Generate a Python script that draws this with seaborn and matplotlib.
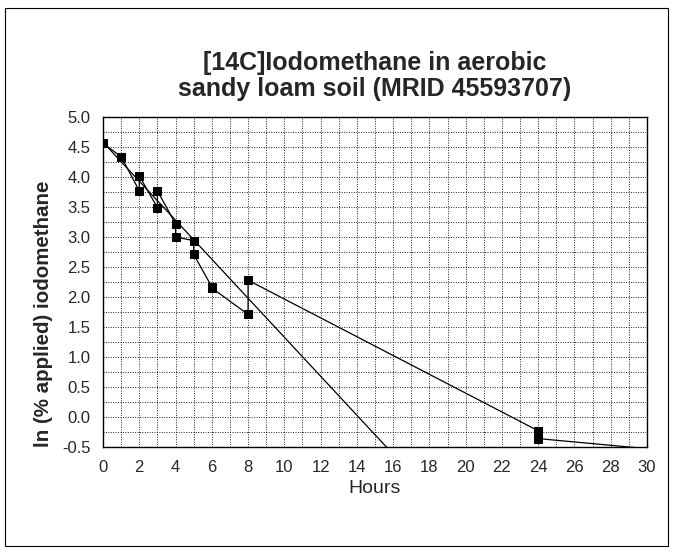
import pandas as pd
import matplotlib
matplotlib.use("Agg")
import matplotlib.pyplot as plt
from matplotlib.patches import Rectangle
from matplotlib.ticker import MultipleLocator
import seaborn as sns

# Observed data, in the order the sheet connects them
hours = [0, 1, 2, 2, 3, 3, 4, 4, 5, 5, 6, 6, 8, 8, 24, 24, 48]
ln_applied = [4.56, 4.34, 3.77, 4.02, 3.49, 3.77, 3.22, 3.00, 2.94, 2.71,
              2.17, 2.15, 1.71, 2.28, -0.23, -0.36, -1.03]

# First-order trend line (end points)
fit_hours = [0, 15.63]
fit_values = [4.58, -0.50]

x_ticks = list(range(0, 31, 2))
y_ticks = [-0.5, 0.0, 0.5, 1.0, 1.5, 2.0, 2.5, 3.0, 3.5, 4.0, 4.5, 5.0]


def main():
    sns.set_style("white")
    plt.rcParams['font.family'] = ['Liberation Sans', 'DejaVu Sans']

    obs = pd.DataFrame({'hours': hours, 'ln': ln_applied})
    fit = pd.DataFrame({'hours': fit_hours, 'ln': fit_values})

    fig = plt.figure(figsize=(6.75, 5.5), dpi=100)
    ax = fig.add_axes([103 / 675, 1 - 447 / 550, 544 / 675, 330 / 550])

    # dotted grid, every hour and every 0.25
    ax.xaxis.set_minor_locator(MultipleLocator(1))
    ax.yaxis.set_minor_locator(MultipleLocator(0.25))
    ax.grid(True, which='both', color='#222222', linestyle=(0, (1, 1.5)), linewidth=0.7)
    ax.set_axisbelow(True)

    sns.lineplot(data=fit, x='hours', y='ln', ax=ax, color='black',
                 linewidth=0.9, sort=False, estimator=None)
    sns.lineplot(data=obs, x='hours', y='ln', ax=ax, color='black',
                 linewidth=0.9, sort=False, estimator=None, marker='s',
                 markersize=6, markeredgecolor='black', markerfacecolor='black')

    ax.set_xlim(0, 30)
    ax.set_ylim(-0.5, 5.0)
    ax.set_xticks(x_ticks)
    ax.set_yticks(y_ticks)
    ax.set_yticklabels([f"{v:.1f}" for v in y_ticks])
    ax.tick_params(axis='both', which='major', direction='out', length=4,
                   width=0.8, labelsize=12, pad=5, color='black')
    ax.tick_params(axis='both', which='minor', length=0)

    for side in ax.spines.values():
        side.set_visible(True)
        side.set_color('black')
        side.set_linewidth(1.0)

    ax.set_xlabel('Hours', fontsize=14)
    ax.xaxis.set_label_coords(0.5, -0.1)
    ax.set_ylabel('ln (% applied) iodomethane', fontsize=14.8, fontweight='bold')
    ax.yaxis.set_label_coords(-0.092, 0.405)

    fig.text(375 / 675, 1 - 76 / 550,
             '[14C]Iodomethane in aerobic\nsandy loam soil (MRID 45593707)',
             ha='center', va='center', fontsize=18, fontweight='bold', linespacing=1.15)

    # chart-area border
    fig.patches.append(Rectangle((5 / 675, 1 - 546 / 550), 663 / 675, 538 / 550,
                                 transform=fig.transFigure, fill=False,
                                 edgecolor='black', linewidth=0.8))

    fig.savefig('out.png', dpi=100, facecolor='white')
    plt.close(fig)


if __name__ == "__main__":
    main()
